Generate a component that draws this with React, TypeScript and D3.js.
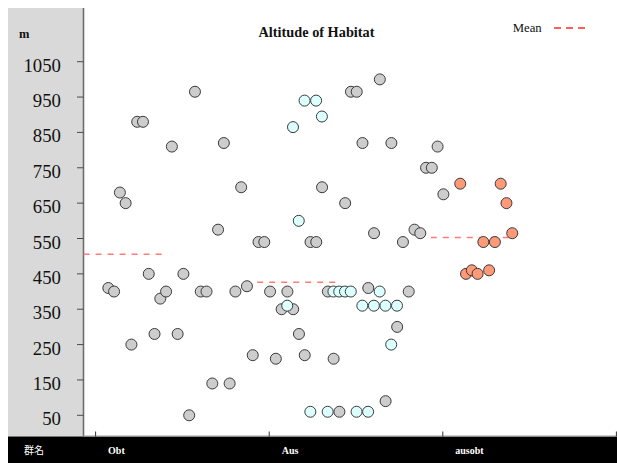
import React from "react";
import * as d3 from "d3";

// Habitat altitude (m) per group, in plotting order
const groups = ["Obt", "Aus", "ausobt"];
const obtAltitudes = [
  410, 400, 680, 650, 250, 880, 880, 450, 280, 380,
  400, 810, 280, 450, 50, 965, 400, 400, 140, 575,
  820, 140, 400, 695, 415, 220, 540, 540, 400, 210,
  350, 400, 350, 280, 220, 540, 540, 695, 400, 210,
  60, 650, 965, 965, 820, 410, 565, 1000, 90, 820,
  300, 540, 400, 575, 565, 750, 750, 810, 675,
];
const ausAltitudes = [
  360, 865, 600, 940, 60, 940, 895, 60, 400, 400,
  400, 400, 60, 360, 60, 360, 400, 360, 250, 360,
];
const ausobtAltitudes = [705, 450, 460, 450, 540, 460, 540, 705, 650, 565];
const yTicks = [50, 150, 250, 350, 450, 550, 650, 750, 850, 950, 1050];

const groupValues = [obtAltitudes, ausAltitudes, ausobtAltitudes];
const groupFills = ["#cdcdcd", "#dcffff", "#ff9a78"];
// first slot of each group's strip, counted from its band start
const stripStart = [2.2, 3.12, 3.02];
const slotsPerBand = 30.05;

const W = 617;
const H = 463;
const panelLeft = 8;
const axisX = 83.5;
const bottomY = 436.5;

export default function App() {
  const x = d3.scaleLinear().domain([0, 3]).range([95.6, 616.4]);
  const y = d3.scaleLinear().domain([50, 1050]).range([415.3, 61.7]);
  const band = x(1) - x(0);
  const slot = band / slotsPerBand;

  const points = groupValues.flatMap((vals, g) =>
    vals.map((v, i) => ({
      g,
      v,
      cx: x(g) + (stripStart[g] + i) * slot,
      cy: y(v),
    }))
  );
  const means = groupValues.map((vals) => d3.mean(vals) as number);

  return (
    <svg
      width={W}
      height={H}
      style={{ position: "absolute", left: 0, top: 0, display: "block" }}
    >
      <rect x={0} y={0} width={W} height={H} fill="#ffffff" />
      {/* left label panel */}
      <rect
        x={panelLeft}
        y={8}
        width={axisX - panelLeft}
        height={bottomY - 8}
        fill="#d9d9d9"
      />
      {/* bottom category band */}
      <rect x={panelLeft} y={bottomY} width={W - panelLeft} height={H - bottomY} fill="#000000" />

      {/* y axis */}
      <line x1={axisX} x2={axisX} y1={8} y2={bottomY} stroke="#6e6e6e" strokeWidth={1.6} />
      {yTicks.map((t) => (
        <g key={t}>
          <line x1={77} x2={axisX} y1={y(t)} y2={y(t)} stroke="#4a4a4a" strokeWidth={1} />
          <text
            x={61}
            y={y(t) + 10}
            textAnchor="end"
            fontFamily="Liberation Serif"
            fontSize={18.8}
            fill="#111"
          >
            {t}
          </text>
        </g>
      ))}
      <text x={19} y={38} fontFamily="Liberation Serif" fontWeight="bold" fontSize={12.5} fill="#111">
        m
      </text>

      {/* x axis */}
      <line x1={axisX} x2={W} y1={bottomY - 0.5} y2={bottomY - 0.5} stroke="#9a9a9a" strokeWidth={1} />
      {[0, 1, 2, 3].map((i) => (
        <line
          key={i}
          x1={x(i)}
          x2={x(i)}
          y1={bottomY - 5}
          y2={bottomY}
          stroke="#333"
          strokeWidth={1}
        />
      ))}
      {groups.map((name, g) => (
        <text
          key={name}
          x={x(g) + 12.5}
          y={454.3}
          fontFamily="Liberation Serif"
          fontWeight="bold"
          fontSize={10}
          fill="#ffffff"
        >
          {name}
        </text>
      ))}
      <text x={24} y={454} fontFamily="Noto Sans CJK JP" fontSize={10} fill="#ffffff">
        群名
      </text>

      {/* title and legend */}
      <text
        x={258.5}
        y={36.5}
        fontFamily="Liberation Serif"
        fontWeight="bold"
        fontSize={15}
        textLength={116}
        lengthAdjust="spacingAndGlyphs"
        fill="#111"
      >
        Altitude of Habitat
      </text>
      <text
        x={512.7}
        y={31.7}
        fontFamily="Liberation Serif"
        fontSize={12.5}
        textLength={29}
        lengthAdjust="spacingAndGlyphs"
        fill="#111"
      >
        Mean
      </text>
      <line
        x1={554}
        x2={586}
        y1={28}
        y2={28}
        stroke="#ff2a2a"
        strokeWidth={1.5}
        strokeDasharray="7 5"
      />

      {/* group means */}
      {means.map((m, g) => (
        <line
          key={g}
          x1={x(g) - 12}
          x2={x(g) + 69}
          y1={y(m)}
          y2={y(m)}
          stroke="#ff7a7a"
          strokeWidth={1.5}
          strokeDasharray="6 6"
        />
      ))}

      {/* observations */}
      {points.map((p, i) => (
        <circle
          key={i}
          cx={p.cx}
          cy={p.cy}
          r={5.5}
          fill={groupFills[p.g]}
          stroke="#3a3a3a"
          strokeWidth={1}
        />
      ))}
    </svg>
  );
}
